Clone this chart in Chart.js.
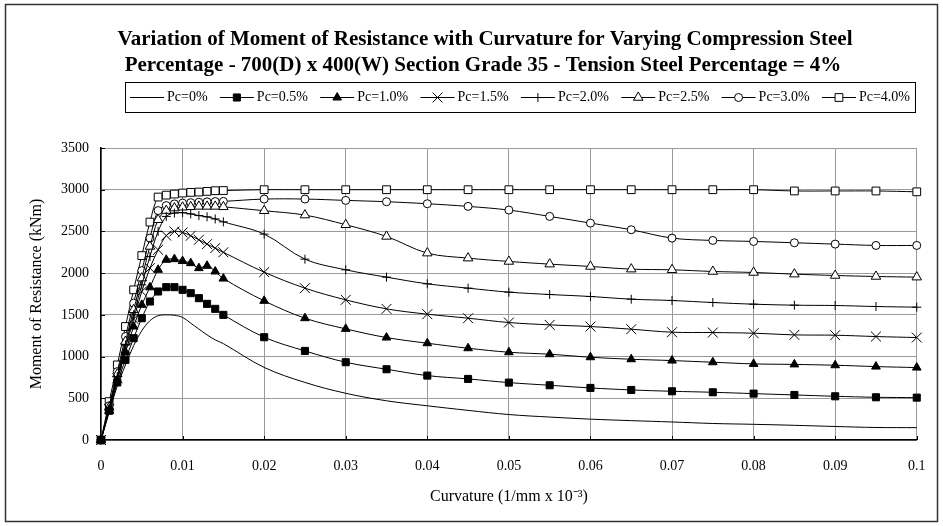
<!DOCTYPE html>
<html>
<head>
<meta charset="utf-8">
<script src="https://cdn.jsdelivr.net/npm/chart.js@4/dist/chart.umd.min.js"></script>
<style>
html,body{margin:0;padding:0;background:#fff;}
#wrap{width:943px;height:526px;position:relative;}
canvas{display:block;}
</style>
</head>
<body>
<div id="wrap"><canvas id="c" width="943" height="526"></canvas></div>
<script>
// ---------- data ----------
const titleLines = [
  'Variation of Moment of Resistance with Curvature for Varying Compression Steel',
  'Percentage - 700(D) x 400(W) Section Grade 35 - Tension Steel Percentage = 4%'
];
const xAxisTitle = 'Curvature (1/mm x 10\u207B\u00B3)';
const yAxisTitle = 'Moment of Resistance (kNm)';

const curvature = [0, 0.001, 0.002, 0.003, 0.004, 0.005, 0.006, 0.007, 0.008, 0.009,
  0.010, 0.011, 0.012, 0.013, 0.014, 0.015, 0.020, 0.025, 0.030, 0.035, 0.040,
  0.045, 0.050, 0.055, 0.060, 0.065, 0.070, 0.075, 0.080, 0.085, 0.090, 0.095, 0.100];

const seriesNames = ['Pc=0%', 'Pc=0.5%', 'Pc=1.0%', 'Pc=1.5%', 'Pc=2.0%', 'Pc=2.5%', 'Pc=3.0%', 'Pc=4.0%'];

const pc00 = [0, 330, 650, 900, 1130, 1310, 1430, 1490, 1500, 1495, 1470, 1400, 1330, 1260, 1200, 1155,
  870, 690, 560, 470, 410, 355, 305, 275, 250, 232, 216, 198, 188, 176, 162, 150, 148];
const pc05 = [0, 350, 690, 960, 1220, 1460, 1660, 1780, 1832, 1832, 1800, 1760, 1700, 1632, 1572, 1500,
  1232, 1068, 932, 848, 772, 732, 688, 656, 624, 600, 584, 572, 556, 540, 524, 512, 508];
const pc10 = [0, 360, 720, 1050, 1360, 1620, 1830, 2040, 2160, 2168, 2145, 2120, 2060, 2088, 2020, 1935,
  1668, 1460, 1332, 1228, 1160, 1100, 1052, 1028, 992, 968, 952, 932, 912, 906, 896, 880, 868];
const pc15 = [0, 370, 740, 1100, 1450, 1780, 2060, 2280, 2450, 2500, 2488, 2448, 2400, 2348, 2300, 2250,
  2012, 1820, 1680, 1572, 1508, 1460, 1408, 1380, 1360, 1328, 1292, 1288, 1280, 1260, 1256, 1240, 1228];
const pc20 = [0, 380, 760, 1140, 1500, 1860, 2200, 2500, 2680, 2720, 2725, 2710, 2690, 2675, 2650, 2615,
  2468, 2168, 2040, 1952, 1872, 1820, 1772, 1744, 1720, 1688, 1672, 1648, 1628, 1616, 1612, 1600, 1592];
const pc25 = [0, 390, 790, 1180, 1560, 1940, 2320, 2640, 2750, 2780, 2790, 2795, 2800, 2800, 2800, 2795,
  2748, 2696, 2580, 2440, 2240, 2180, 2140, 2108, 2080, 2048, 2040, 2020, 2008, 1988, 1972, 1960, 1952];
const pc30 = [0, 410, 820, 1240, 1640, 2030, 2420, 2750, 2810, 2830, 2840, 2845, 2850, 2855, 2858, 2860,
  2888, 2888, 2872, 2856, 2832, 2800, 2756, 2680, 2600, 2520, 2420, 2392, 2380, 2364, 2348, 2332, 2332];
const pc40 = [0, 460, 900, 1360, 1800, 2210, 2612, 2912, 2935, 2948, 2960, 2968, 2972, 2980, 2988, 2990,
  3000, 3000, 3000, 3000, 3000, 3000, 3000, 3000, 3000, 3000, 3000, 3000, 3000, 2985, 2985, 2985, 2975];

const xTickValues = [0, 0.01, 0.02, 0.03, 0.04, 0.05, 0.06, 0.07, 0.08, 0.09, 0.1];
const xTickLabels = ['0', '0.01', '0.02', '0.03', '0.04', '0.05', '0.06', '0.07', '0.08', '0.09', '0.1'];
const yTickValues = [0, 500, 1000, 1500, 2000, 2500, 3000, 3500];
const yTickLabels = ['0', '500', '1000', '1500', '2000', '2500', '3000', '3500'];

// ---------- styling ----------
const FONT = '"Liberation Serif", "Times New Roman", serif';
const markerStyles = [
  {style: false, r: 0, fill: '#000'},
  {style: 'rect', r: 5, fill: '#000'},
  {style: 'triangle', r: 5, fill: '#000'},
  {style: 'crossRot', r: 7, fill: '#000'},
  {style: 'cross', r: 4.5, fill: '#000'},
  {style: 'triangle', r: 5.5, fill: '#fff'},
  {style: 'circle', r: 4, fill: '#fff'},
  {style: 'rect', r: 5.5, fill: '#fff'}
];
const seriesValues = [pc00, pc05, pc10, pc15, pc20, pc25, pc30, pc40];

const datasets = seriesValues.map((vals, i) => {
  const m = markerStyles[i];
  return {
    label: seriesNames[i],
    data: curvature.map((x, j) => ({x: x, y: vals[j]})),
    borderColor: '#000',
    borderWidth: 1,
    backgroundColor: m.fill,
    pointStyle: m.style,
    pointRadius: m.r,
    pointHoverRadius: m.r,
    pointBackgroundColor: m.fill,
    pointBorderColor: '#000',
    pointBorderWidth: 1,
    tension: 0.35,
    fill: false,
    clip: false
  };
});

function drawMarker(ctx, style, r, fill, x, y) {
  if (!style || r <= 0) return;
  ctx.save();
  ctx.fillStyle = fill; ctx.strokeStyle = '#000'; ctx.lineWidth = 1;
  ctx.beginPath();
  if (style === 'rect') {
    const s = r * Math.SQRT1_2;
    ctx.rect(x - s, y - s, 2 * s, 2 * s); ctx.fill(); ctx.stroke();
  } else if (style === 'triangle') {
    for (let k = 0; k < 3; k++) {
      const a = -Math.PI / 2 + k * 2 * Math.PI / 3;
      const px = x + Math.cos(a) * r, py = y + Math.sin(a) * r;
      if (k === 0) ctx.moveTo(px, py); else ctx.lineTo(px, py);
    }
    ctx.closePath(); ctx.fill(); ctx.stroke();
  } else if (style === 'circle') {
    ctx.arc(x, y, r, 0, Math.PI * 2); ctx.fill(); ctx.stroke();
  } else if (style === 'cross') {
    ctx.moveTo(x - r, y); ctx.lineTo(x + r, y); ctx.moveTo(x, y - r); ctx.lineTo(x, y + r); ctx.stroke();
  } else if (style === 'crossRot') {
    const d = r * Math.SQRT1_2;
    ctx.moveTo(x - d, y - d); ctx.lineTo(x + d, y + d); ctx.moveTo(x + d, y - d); ctx.lineTo(x - d, y + d); ctx.stroke();
  }
  ctx.restore();
}

const framePlugin = {
  id: 'frame',
  beforeDraw(chart) {
    const ctx = chart.ctx;
    ctx.save();
    ctx.fillStyle = '#fff';
    ctx.fillRect(0, 0, chart.width, chart.height);
    ctx.strokeStyle = '#333';
    ctx.lineWidth = 1.5;
    ctx.strokeRect(5.5, 4.5, 932, 517);
    ctx.restore();
  }
};

const titlePlugin = {
  id: 'twoLineTitle',
  afterDraw(chart) {
    const ctx = chart.ctx;
    ctx.save();
    ctx.fillStyle = '#000';
    ctx.font = 'bold 21px ' + FONT;
    ctx.textAlign = 'center';
    ctx.textBaseline = 'middle';
    ctx.fillText(titleLines[0], 485, 40);
    ctx.fillText(titleLines[1], 483, 66);
    ctx.restore();
  }
};

const innerTicksPlugin = {
  id: 'innerTicks',
  beforeDatasetsDraw(chart) {
    const ctx = chart.ctx, xs = chart.scales.x, ys = chart.scales.y, a = chart.chartArea;
    ctx.save();
    ctx.strokeStyle = '#000'; ctx.lineWidth = 1;
    ctx.beginPath();
    xTickValues.forEach(v => {
      const px = Math.round(xs.getPixelForValue(v)) + 0.5;
      ctx.moveTo(px, a.bottom); ctx.lineTo(px, a.bottom - 4);
    });
    yTickValues.forEach(v => {
      const py = Math.round(ys.getPixelForValue(v)) + 0.5;
      ctx.moveTo(a.left, py); ctx.lineTo(a.left + 4, py);
    });
    ctx.stroke();
    ctx.restore();
  }
};

const legendPlugin = {
  id: 'boxLegend',
  afterDraw(chart) {
    const ctx = chart.ctx;
    const boxL = 125, boxR = 915, boxT = 82, boxB = 112;
    ctx.save();
    ctx.strokeStyle = '#000'; ctx.lineWidth = 1;
    ctx.strokeRect(boxL + 0.5, boxT + 0.5, boxR - boxL, boxB - boxT);
    ctx.font = '14px ' + FONT;
    const sample = 34, gapT = 3, pad = 5;
    const widths = seriesNames.map(n => ctx.measureText(n).width);
    const used = widths.reduce((s, w) => s + w, 0) + seriesNames.length * (sample + gapT);
    const gap = (boxR - boxL - 2 * pad - used) / (seriesNames.length - 1);
    let x = boxL + pad;
    const y = (boxT + boxB) / 2 + 0.5;
    seriesNames.forEach((name, i) => {
      ctx.strokeStyle = '#000'; ctx.lineWidth = 1;
      ctx.beginPath(); ctx.moveTo(x, y); ctx.lineTo(x + sample, y); ctx.stroke();
      const m = markerStyles[i];
      drawMarker(ctx, m.style, m.r, m.fill, x + sample / 2, y);
      ctx.fillStyle = '#000'; ctx.textBaseline = 'middle'; ctx.textAlign = 'left';
      ctx.fillText(name, x + sample + gapT, y);
      x += sample + gapT + widths[i] + gap;
    });
    ctx.restore();
  }
};

new Chart(document.getElementById('c'), {
  type: 'line',
  data: {datasets: datasets},
  plugins: [framePlugin, innerTicksPlugin, legendPlugin, titlePlugin],
  options: {
    responsive: false,
    animation: false,
    devicePixelRatio: 1,
    layout: {padding: {left: 23.4, right: 15, top: 148, bottom: 0}},
    plugins: {
      legend: {display: false},
      tooltip: {enabled: false},
      title: {display: false}
    },
    scales: {
      x: {
        type: 'linear', min: 0, max: 0.1,
        afterBuildTicks: s => { s.ticks = xTickValues.map(v => ({value: v})); },
        ticks: {
          callback: (v, i) => xTickLabels[i],
          color: '#000', font: {family: FONT, size: 14}, padding: 17.5,
          maxRotation: 0, autoSkip: false
        },
        grid: {color: '#9a9a9a', lineWidth: 1, drawTicks: false},
        border: {color: '#000', width: 1.5},
        title: {
          display: true, text: xAxisTitle, color: '#000',
          font: {family: FONT, size: 16}, padding: {top: -4.4, bottom: 19.4}
        }
      },
      y: {
        min: 0, max: 3500,
        afterBuildTicks: s => { s.ticks = yTickValues.map(v => ({value: v})); },
        ticks: {
          callback: (v, i) => yTickLabels[i],
          color: '#000', font: {family: FONT, size: 14}, padding: 12
        },
        grid: {color: '#9a9a9a', lineWidth: 1, drawTicks: false},
        border: {color: '#000', width: 1.5},
        title: {
          display: true, text: yAxisTitle, color: '#000',
          font: {family: FONT, size: 16}, padding: {top: 4, bottom: 2.4}
        }
      }
    }
  }
});
</script>
</body>
</html>
